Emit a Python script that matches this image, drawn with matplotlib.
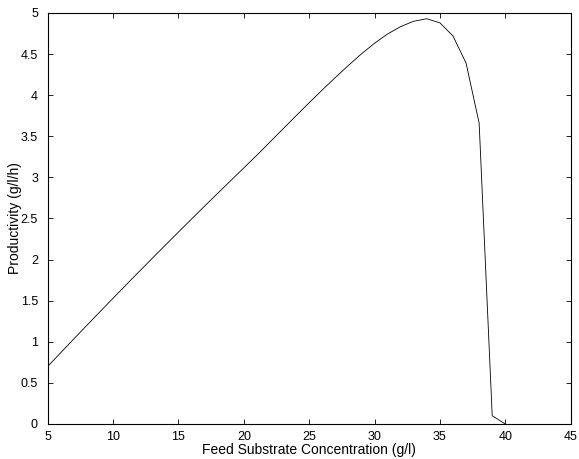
import matplotlib
matplotlib.use('Agg')
import matplotlib.pyplot as plt

plt.rcParams['font.family'] = ['Liberation Sans', 'DejaVu Sans']

# feed substrate concentration (g/l) and productivity (g/l/h)
feed = list(range(5, 41))
productivity = [0.700, 0.868, 1.035, 1.201, 1.366, 1.530, 1.693, 1.855, 2.016, 2.176,
                2.335, 2.493, 2.650, 2.806, 2.961, 3.115, 3.270, 3.430, 3.590, 3.750,
                3.908, 4.064, 4.215, 4.362, 4.503, 4.632, 4.745, 4.835, 4.900, 4.930,
                4.880, 4.720, 4.390, 3.660, 0.100, 0.000]

xticks = [5, 10, 15, 20, 25, 30, 35, 40, 45]
yticks = [0, 0.5, 1, 1.5, 2, 2.5, 3, 3.5, 4, 4.5, 5]

fig = plt.figure(figsize=(5.79, 4.59), dpi=100)
ax = fig.add_axes([0.0824, 0.0763, 0.9032, 0.8954])

ax.plot(feed, productivity, color='k', linewidth=0.6)

ax.set_xlim(5, 45)
ax.set_ylim(0, 5)
ax.set_xticks(xticks)
ax.set_xticklabels([str(t) for t in xticks])
ax.set_yticks(yticks)
ax.set_yticklabels(['%g' % t for t in yticks])
ax.tick_params(direction='in', top=True, right=True, length=3.6, width=0.6,
               labelsize=9)
ax.tick_params(axis='x', pad=5)
ax.tick_params(axis='y', pad=7)
for s in ax.spines.values():
    s.set_linewidth(0.8)

ax.set_xlabel('Feed Substrate Concentration (g/l)', fontsize=10, labelpad=0)
ax.set_ylabel('Productivity (g/l/h)', fontsize=10, labelpad=-1)

fig.savefig('out.png', dpi=100)
